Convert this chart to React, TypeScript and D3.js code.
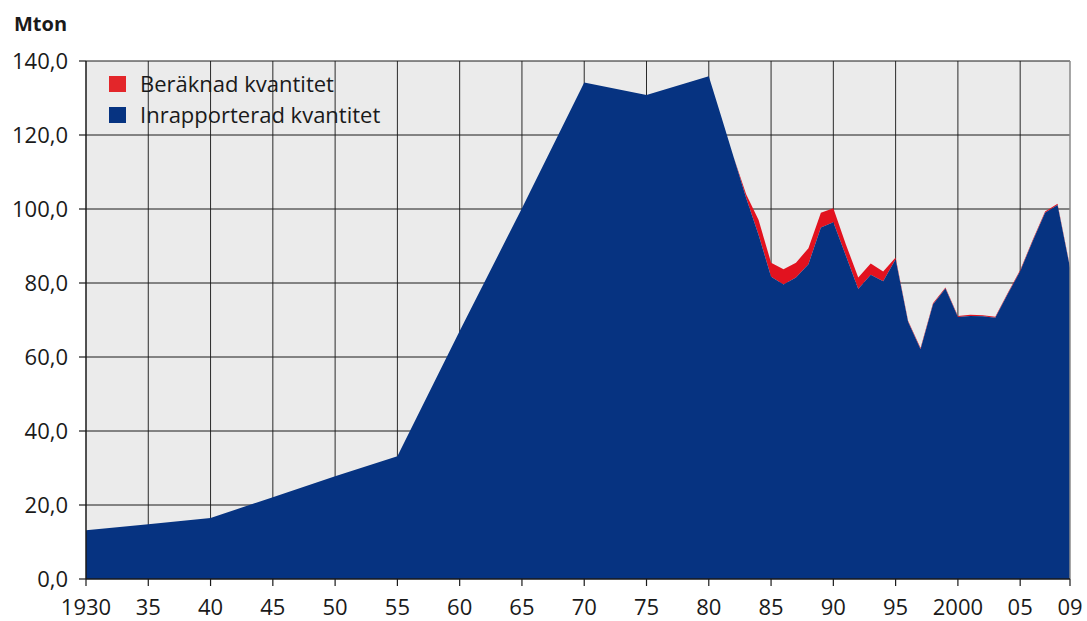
import React from "react";
import * as d3 from "d3";

const years = [1930, 1935, 1937, 1940, 1945, 1950, 1955, 1960, 1965, 1970, 1975, 1980, 1981, 1982,
  1983, 1984, 1985, 1986, 1987, 1988, 1989, 1990, 1991, 1992, 1993, 1994, 1995, 1996, 1997, 1998,
  1999, 2000, 2001, 2002, 2003, 2004, 2005, 2006, 2007, 2008, 2009];
const inrapporterad = [13.2, 14.8, 15.5, 16.5, 22.1, 27.8, 33.2, 67.0, 100.2, 134.2, 130.8, 135.9, 125.0, 114.0,
  103.0, 93.0, 81.7, 79.6, 81.5, 85.1, 95.0, 96.4, 87.4, 78.4, 82.2, 80.5, 86.4, 69.5, 62.1, 74.2,
  78.5, 70.8, 71.1, 71.0, 70.6, 77.0, 83.2, 91.3, 99.0, 101.1, 84.1];
const beraknad = [0, 0, 0, 0, 0, 0, 0, 0, 0, 0, 0, 0, 0, 0,
  1.0, 4.0, 3.8, 4.1, 4.0, 4.3, 4.0, 3.8, 3.1, 3.1, 3.1, 2.6, 0.5, 0.3, 0.3, 0.3,
  0.3, 0.3, 0.3, 0.3, 0.3, 0.3, 0.3, 0.3, 0.3, 0.3, 0.3];

const xTicks = [1930, 1935, 1940, 1945, 1950, 1955, 1960, 1965, 1970, 1975, 1980, 1985, 1990, 1995, 2000, 2005, 2009];
const xTickLabels = ["1930", "35", "40", "45", "50", "55", "60", "65", "70", "75", "80", "85", "90", "95", "2000", "05", "09"];
const yTicks = [0, 20, 40, 60, 80, 100, 120, 140];
const seriesNames = ["Beräknad kvantitet", "Inrapporterad kvantitet"];

const BLUE = "#063381";
const RED = "#e2121f";
const FONT = "'Open Sans', 'Noto Sans', sans-serif";

export default function App() {
  const W = 1087, H = 621;
  const left = 86, right = 1070, top = 61, bottom = 579;
  const x = d3.scaleLinear().domain([1930, 2009]).range([left, right]);
  const y = d3.scaleLinear().domain([0, 140]).range([bottom, top]);

  const rows = years.map((yr, i) => ({ year: yr, inr: inrapporterad[i], ber: beraknad[i] }));
  const stack = d3.stack<any>().keys(["inr", "ber"]);
  const series = stack(rows);
  const area = d3.area<any>()
    .x((d) => x(d.data.year))
    .y0((d) => y(d[0]))
    .y1((d) => y(d[1]));

  const fmt = (v: number) => v.toFixed(1).replace(".", ",");

  return (
    <svg width={W} height={H} style={{ position: "absolute", left: 0, top: 0, fontFamily: FONT }}>
      <rect x={left} y={top} width={right - left} height={bottom - top} fill="#ebebeb" />
      {xTicks.slice(1, -1).map((t) => (
        <line key={"gx" + t} x1={x(t)} x2={x(t)} y1={top} y2={bottom} stroke="#2a2a2a" strokeWidth={1} />
      ))}
      {yTicks.slice(1).map((t) => (
        <line key={"gy" + t} x1={left} x2={right} y1={y(t)} y2={y(t)} stroke="#1a1a1a" strokeWidth={1} />
      ))}
      <path d={area(series[1]) || ""} fill={RED} />
      <path d={area(series[0]) || ""} fill={BLUE} />
      <line x1={right} x2={right} y1={top} y2={bottom} stroke="#8a8a8a" strokeWidth={1.5} />
      <line x1={left} x2={left} y1={top} y2={bottom} stroke="#1a1a1a" strokeWidth={1.5} />
      <line x1={left} x2={right} y1={bottom} y2={bottom} stroke="#1a1a1a" strokeWidth={1.5} />
      {yTicks.map((t) => (
        <g key={"yt" + t}>
          <line x1={79} x2={left} y1={y(t)} y2={y(t)} stroke="#1a1a1a" strokeWidth={1.2} />
          <text x={68} y={y(t)} dy="0.36em" textAnchor="end" fontSize={22} fill="#1a1a1a">{fmt(t)}</text>
        </g>
      ))}
      {xTicks.map((t, i) => (
        <g key={"xt" + t}>
          <line x1={x(t)} x2={x(t)} y1={bottom} y2={bottom + 7} stroke="#1a1a1a" strokeWidth={1.2} />
          <text x={x(t)} y={615} textAnchor="middle" fontSize={22} fill="#1a1a1a">{xTickLabels[i]}</text>
        </g>
      ))}
      <text x={14} y={31} fontSize={20} fontWeight="bold" fill="#1a1a1a">Mton</text>
      <rect x={109} y={76} width={17} height={16} fill="#e3262a" />
      <text x={140} y={92} fontSize={22} fill="#1a1a1a">{seriesNames[0]}</text>
      <rect x={109} y={107} width={17} height={16} fill={BLUE} />
      <text x={140} y={123} fontSize={22} fill="#1a1a1a">{seriesNames[1]}</text>
    </svg>
  );
}
